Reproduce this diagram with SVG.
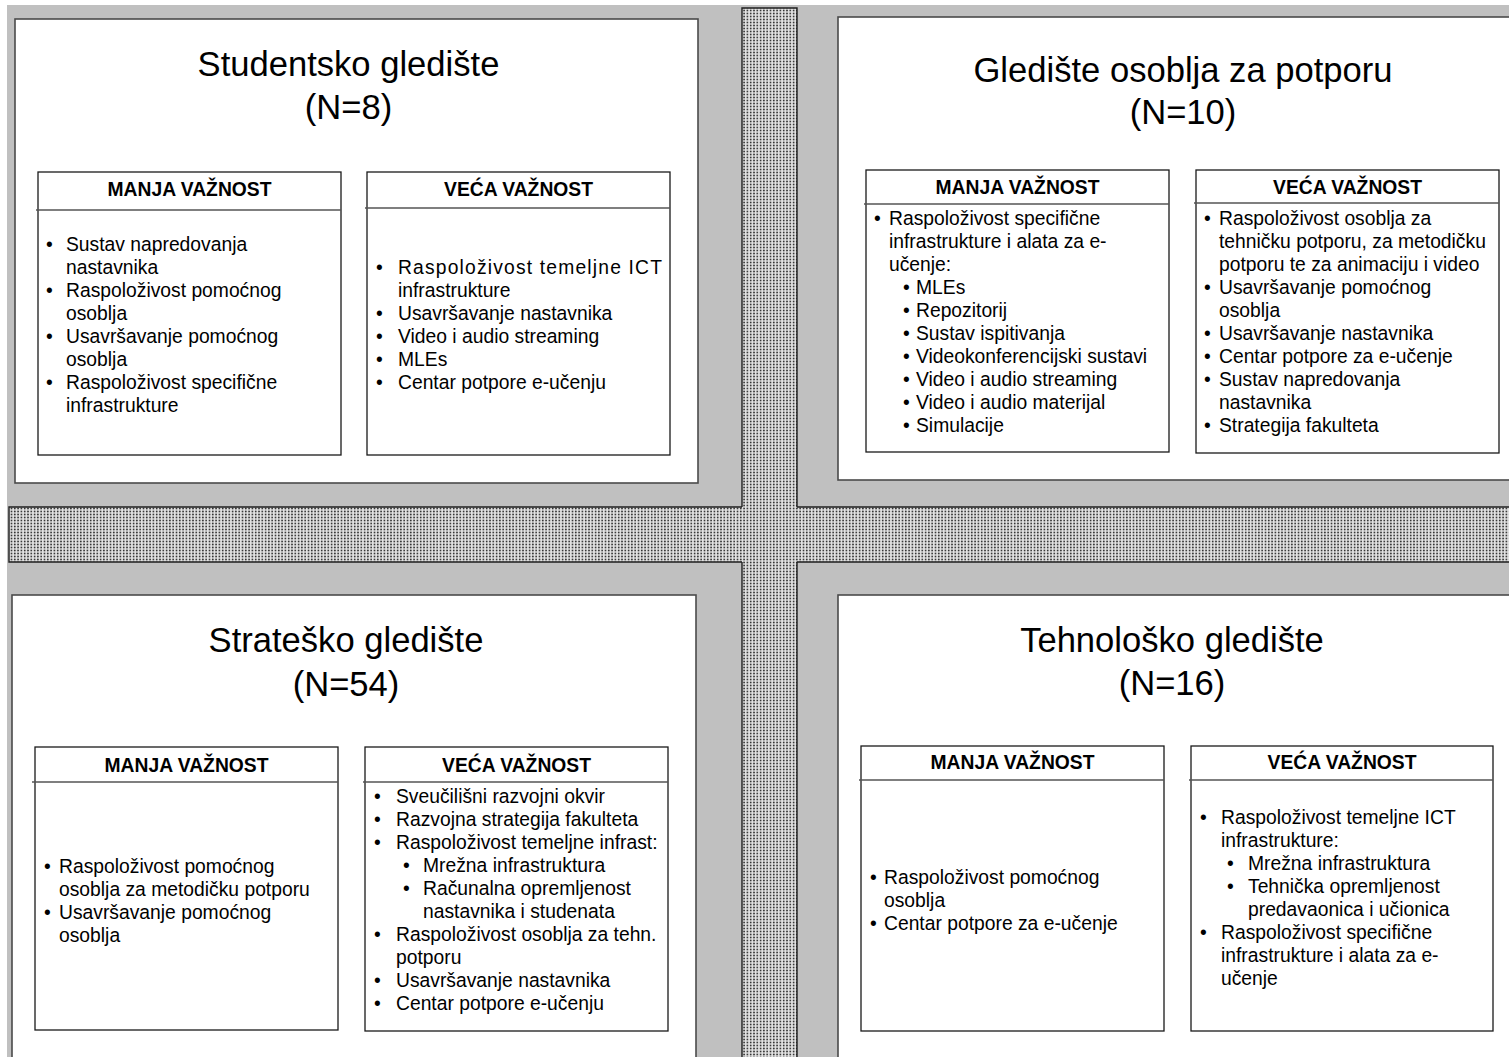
<svg xmlns="http://www.w3.org/2000/svg" width="1509" height="1057" viewBox="0 0 1509 1057">
<style>
text{font-family:"Liberation Sans",Arial,sans-serif;fill:#000}
.t{font-size:34.6px;text-anchor:middle}
.h{font-size:19.3px;font-weight:bold;text-anchor:middle}
.b{font-size:19.3px}
.panel{fill:#fff;stroke:#4a4a4a;stroke-width:1.6}
.box{fill:#fff;stroke:#1a1a1a;stroke-width:1.3}
.div{stroke:#555;stroke-width:1.4}
.edge{stroke:#1e1e1e;stroke-width:1.4;fill:none}
</style>
<defs>
<pattern id="dots" width="3.3" height="3" patternUnits="userSpaceOnUse">
<rect width="3.3" height="3" fill="#e2e2e2"/>
<circle cx="1.6" cy="1.5" r="0.9" fill="#333"/>
</pattern>
</defs>
<rect width="1509" height="1057" fill="#fff"/>
<g id="background">
<rect x="7" y="5" width="1502" height="1052" fill="#c0c0c0"/>
<rect x="742" y="8" width="55" height="1049" fill="url(#dots)"/>
<rect x="9" y="507" width="1500" height="55" fill="url(#dots)"/>
<path class="edge" d="M742,507V8H797V507M742,562V1057M797,562V1057M742,507H9V562H742M797,507H1509M797,562H1509"/>
</g>
<g id="connectors"/>

<g id="panel-studentsko">
<rect class="panel" x="15" y="19" width="683" height="464"/>
<text class="t" x="348.5" y="76">Studentsko gledište</text>
<text class="t" x="348.5" y="119">(N=8)</text>
<g id="studentsko-manja">
<rect class="box" x="38" y="172" width="303" height="283"/>
<line class="div" x1="36" y1="210" x2="341" y2="210"/>
<text class="h" x="189.5" y="196">MANJA VAŽNOST</text>
<text class="b" x="46" y="251">•</text><text class="b" x="66" y="251">Sustav napredovanja</text>
<text class="b" x="66" y="274">nastavnika</text>
<text class="b" x="46" y="297">•</text><text class="b" x="66" y="297">Raspoloživost pomoćnog</text>
<text class="b" x="66" y="320">osoblja</text>
<text class="b" x="46" y="343">•</text><text class="b" x="66" y="343">Usavršavanje pomoćnog</text>
<text class="b" x="66" y="366">osoblja</text>
<text class="b" x="46" y="389">•</text><text class="b" x="66" y="389">Raspoloživost specifične</text>
<text class="b" x="66" y="412">infrastrukture</text>
</g>
<g id="studentsko-veca">
<rect class="box" x="367" y="172" width="303" height="283"/>
<line class="div" x1="365" y1="208" x2="670" y2="208"/>
<text class="h" x="518.5" y="196">VEĆA VAŽNOST</text>
<text class="b" x="376" y="274">•</text><text class="b" x="398" y="274" textLength="264" lengthAdjust="spacing">Raspoloživost temeljne ICT</text>
<text class="b" x="398" y="297">infrastrukture</text>
<text class="b" x="376" y="320">•</text><text class="b" x="398" y="320">Usavršavanje nastavnika</text>
<text class="b" x="376" y="343">•</text><text class="b" x="398" y="343">Video i audio streaming</text>
<text class="b" x="376" y="366">•</text><text class="b" x="398" y="366">MLEs</text>
<text class="b" x="376" y="389">•</text><text class="b" x="398" y="389">Centar potpore e-učenju</text>
</g>
</g>

<g id="panel-osoblje">
<rect class="panel" x="838" y="17" width="690" height="463"/>
<text class="t" x="1183" y="82">Gledište osoblja za potporu</text>
<text class="t" x="1183" y="124">(N=10)</text>
<g id="osoblje-manja">
<rect class="box" x="866" y="170" width="303" height="282"/>
<line class="div" x1="864" y1="204" x2="1169" y2="204"/>
<text class="h" x="1017.5" y="194">MANJA VAŽNOST</text>
<text class="b" x="874" y="225">•</text><text class="b" x="889" y="225">Raspoloživost specifične</text>
<text class="b" x="889" y="248">infrastrukture i alata za e-</text>
<text class="b" x="889" y="271">učenje:</text>
<text class="b" x="903" y="294">•</text><text class="b" x="916" y="294">MLEs</text>
<text class="b" x="903" y="317">•</text><text class="b" x="916" y="317">Repozitorij</text>
<text class="b" x="903" y="340">•</text><text class="b" x="916" y="340">Sustav ispitivanja</text>
<text class="b" x="903" y="363">•</text><text class="b" x="916" y="363">Videokonferencijski sustavi</text>
<text class="b" x="903" y="386">•</text><text class="b" x="916" y="386">Video i audio streaming</text>
<text class="b" x="903" y="409">•</text><text class="b" x="916" y="409">Video i audio materijal</text>
<text class="b" x="903" y="432">•</text><text class="b" x="916" y="432">Simulacije</text>
</g>
<g id="osoblje-veca">
<rect class="box" x="1196" y="170" width="303" height="283"/>
<line class="div" x1="1194" y1="203" x2="1499" y2="203"/>
<text class="h" x="1347.5" y="194">VEĆA VAŽNOST</text>
<text class="b" x="1204" y="225">•</text><text class="b" x="1219" y="225">Raspoloživost osoblja za</text>
<text class="b" x="1219" y="248">tehničku potporu, za metodičku</text>
<text class="b" x="1219" y="271">potporu te za animaciju i video</text>
<text class="b" x="1204" y="294">•</text><text class="b" x="1219" y="294">Usavršavanje pomoćnog</text>
<text class="b" x="1219" y="317">osoblja</text>
<text class="b" x="1204" y="340">•</text><text class="b" x="1219" y="340">Usavršavanje nastavnika</text>
<text class="b" x="1204" y="363">•</text><text class="b" x="1219" y="363">Centar potpore za e-učenje</text>
<text class="b" x="1204" y="386">•</text><text class="b" x="1219" y="386">Sustav napredovanja</text>
<text class="b" x="1219" y="409">nastavnika</text>
<text class="b" x="1204" y="432">•</text><text class="b" x="1219" y="432">Strategija fakulteta</text>
</g>
</g>

<g id="panel-strateško">
<rect class="panel" x="12" y="595" width="684" height="480"/>
<text class="t" x="346" y="652">Strateško gledište</text>
<text class="t" x="346" y="696">(N=54)</text>
<g id="strateško-manja">
<rect class="box" x="35" y="747" width="303" height="283"/>
<line class="div" x1="32" y1="782" x2="338" y2="782"/>
<text class="h" x="186.5" y="772">MANJA VAŽNOST</text>
<text class="b" x="44" y="873">•</text><text class="b" x="59" y="873">Raspoloživost pomoćnog</text>
<text class="b" x="59" y="896">osoblja za metodičku potporu</text>
<text class="b" x="44" y="919">•</text><text class="b" x="59" y="919">Usavršavanje pomoćnog</text>
<text class="b" x="59" y="942">osoblja</text>
</g>
<g id="strateško-veca">
<rect class="box" x="365" y="747" width="303" height="284"/>
<line class="div" x1="363" y1="782" x2="668" y2="782"/>
<text class="h" x="516.5" y="772">VEĆA VAŽNOST</text>
<text class="b" x="374" y="803">•</text><text class="b" x="396" y="803">Sveučilišni razvojni okvir</text>
<text class="b" x="374" y="826">•</text><text class="b" x="396" y="826">Razvojna strategija fakulteta</text>
<text class="b" x="374" y="849">•</text><text class="b" x="396" y="849">Raspoloživost temeljne infrast:</text>
<text class="b" x="403" y="872">•</text><text class="b" x="423" y="872">Mrežna infrastruktura</text>
<text class="b" x="403" y="895">•</text><text class="b" x="423" y="895">Računalna opremljenost</text>
<text class="b" x="423" y="918">nastavnika i studenata</text>
<text class="b" x="374" y="941">•</text><text class="b" x="396" y="941">Raspoloživost osoblja za tehn.</text>
<text class="b" x="396" y="964">potporu</text>
<text class="b" x="374" y="987">•</text><text class="b" x="396" y="987">Usavršavanje nastavnika</text>
<text class="b" x="374" y="1010">•</text><text class="b" x="396" y="1010">Centar potpore e-učenju</text>
</g>
</g>

<g id="panel-tehnološko">
<rect class="panel" x="838" y="595" width="690" height="480"/>
<text class="t" x="1172" y="652">Tehnološko gledište</text>
<text class="t" x="1172" y="695">(N=16)</text>
<g id="tehnološko-manja">
<rect class="box" x="861" y="746" width="303" height="285"/>
<line class="div" x1="859" y1="780" x2="1164" y2="780"/>
<text class="h" x="1012.5" y="769">MANJA VAŽNOST</text>
<text class="b" x="870" y="884">•</text><text class="b" x="884" y="884">Raspoloživost pomoćnog</text>
<text class="b" x="884" y="907">osoblja</text>
<text class="b" x="870" y="930">•</text><text class="b" x="884" y="930">Centar potpore za e-učenje</text>
</g>
<g id="tehnološko-veca">
<rect class="box" x="1191" y="746" width="302" height="285"/>
<line class="div" x1="1189" y1="780" x2="1493" y2="780"/>
<text class="h" x="1342" y="769">VEĆA VAŽNOST</text>
<text class="b" x="1200" y="824">•</text><text class="b" x="1221" y="824">Raspoloživost temeljne ICT</text>
<text class="b" x="1221" y="847">infrastrukture:</text>
<text class="b" x="1227" y="870">•</text><text class="b" x="1248" y="870">Mrežna infrastruktura</text>
<text class="b" x="1227" y="893">•</text><text class="b" x="1248" y="893">Tehnička opremljenost</text>
<text class="b" x="1248" y="916">predavaonica i učionica</text>
<text class="b" x="1200" y="939">•</text><text class="b" x="1221" y="939">Raspoloživost specifične</text>
<text class="b" x="1221" y="962">infrastrukture i alata za e-</text>
<text class="b" x="1221" y="985">učenje</text>
</g>
</g>
</svg>
